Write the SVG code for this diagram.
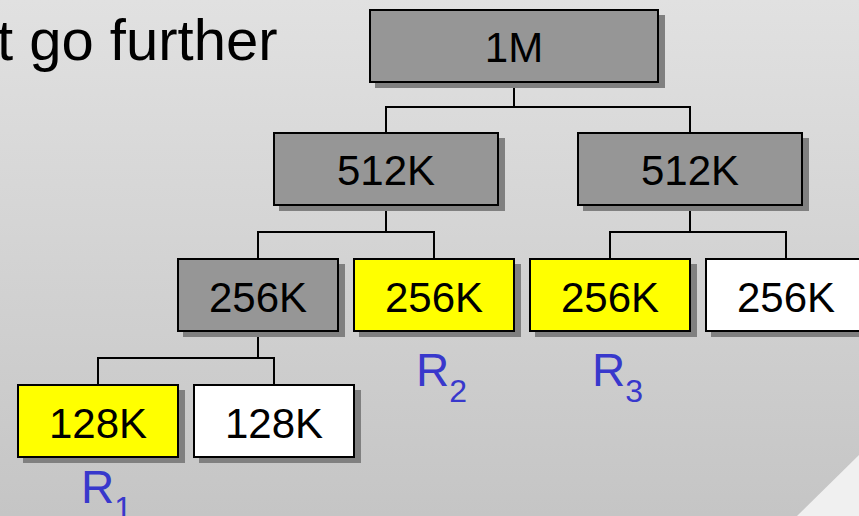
<svg xmlns="http://www.w3.org/2000/svg" width="859" height="516" viewBox="0 0 859 516">
  <defs>
    <linearGradient id="bg" x1="0" y1="0" x2="0" y2="1">
      <stop offset="0" stop-color="#e1e1e1"/>
      <stop offset="1" stop-color="#c5c5c5"/>
    </linearGradient>
  </defs>
  <style>
    .box { stroke: #000; stroke-width: 2; }
    .shadow { fill: #808080; }
    .gray { fill: #969696; }
    .yellow { fill: #ffff00; }
    .white { fill: #ffffff; }
    .lbl { font-family: "Liberation Sans", Arial, sans-serif; font-size: 42px; fill: #000; text-anchor: middle; }
    .reg { font-family: "Liberation Sans", Arial, sans-serif; font-size: 46px; fill: #3838cc; }
    .sub { font-size: 32px; }
    .link { fill: none; stroke: #000; stroke-width: 2; }
  </style>

  <!-- backdrop -->
  <rect x="0" y="0" width="859" height="516" fill="url(#bg)"/>
  <polygon points="859,455 859,516 797,516" fill="#f0f0f0"/>

  <text x="-3" y="60" font-family="'Liberation Sans', Arial, sans-serif" font-size="58" fill="#000">t go further</text>

  <!-- tree connectors -->
  <g id="connectors">
    <path class="link" d="M514,82 V107 M386,132 V107 H690 V132"/>
    <path class="link" d="M386,206 V232 M258,258 V232 H434 V258"/>
    <path class="link" d="M690,206 V232 M610,258 V232 H786 V258"/>
    <path class="link" d="M258,332 V358 M98,384 V358 H274 V384"/>
  </g>

  <g id="node-1M">
    <rect class="shadow" x="375" y="15" width="290" height="73"/>
    <rect class="box gray" x="370" y="10" width="288" height="72"/>
    <text class="lbl" x="514" y="62">1M</text>
  </g>

  <g id="node-512K-a">
    <rect class="shadow" x="279" y="138" width="226" height="73"/>
    <rect class="box gray" x="274" y="133" width="224" height="72"/>
    <text class="lbl" x="386" y="185">512K</text>
  </g>

  <g id="node-512K-b">
    <rect class="shadow" x="583" y="138" width="226" height="73"/>
    <rect class="box gray" x="578" y="133" width="224" height="72"/>
    <text class="lbl" x="690" y="185">512K</text>
  </g>

  <g id="node-256K-a">
    <rect class="shadow" x="183" y="264" width="162" height="73"/>
    <rect class="box gray" x="178" y="259" width="160" height="72"/>
    <text class="lbl" x="258" y="312">256K</text>
  </g>

  <g id="node-256K-b">
    <rect class="shadow" x="359" y="264" width="162" height="73"/>
    <rect class="box yellow" x="354" y="259" width="160" height="72"/>
    <text class="lbl" x="434" y="312">256K</text>
  </g>

  <g id="node-256K-c">
    <rect class="shadow" x="535" y="264" width="162" height="73"/>
    <rect class="box yellow" x="530" y="259" width="160" height="72"/>
    <text class="lbl" x="610" y="312">256K</text>
  </g>

  <g id="node-256K-d">
    <rect class="shadow" x="711" y="264" width="162" height="73"/>
    <rect class="box white" x="706" y="259" width="160" height="72"/>
    <text class="lbl" x="786" y="312">256K</text>
  </g>

  <g id="node-128K-a">
    <rect class="shadow" x="23" y="390" width="162" height="73"/>
    <rect class="box yellow" x="18" y="385" width="160" height="72"/>
    <text class="lbl" x="98" y="438">128K</text>
  </g>

  <g id="node-128K-b">
    <rect class="shadow" x="199" y="390" width="162" height="73"/>
    <rect class="box white" x="194" y="385" width="160" height="72"/>
    <text class="lbl" x="274" y="438">128K</text>
  </g>

  <!-- region labels -->
  <g id="labels">
    <text class="reg" x="81" y="503">R<tspan class="sub" dy="16">1</tspan></text>
    <text class="reg" x="416" y="386">R<tspan class="sub" dy="16">2</tspan></text>
    <text class="reg" x="592" y="386">R<tspan class="sub" dy="16">3</tspan></text>
  </g>
</svg>
